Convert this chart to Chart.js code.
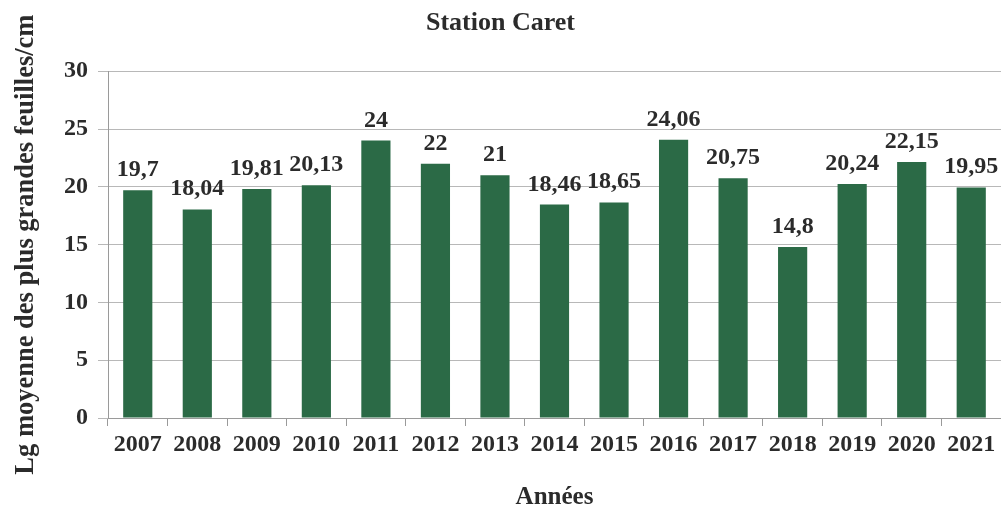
<!DOCTYPE html>
<html>
<head>
<meta charset="utf-8">
<script src="https://cdn.jsdelivr.net/npm/chart.js@4/dist/chart.umd.min.js"></script>
<style>
  html, body { margin: 0; padding: 0; background: #fff; }
  #wrap { width: 1001px; height: 513px; }
</style>
</head>
<body>
<div id="wrap"><canvas id="c" width="1001" height="513"></canvas></div>
<script>
const years = ['2007','2008','2009','2010','2011','2012','2013','2014','2015','2016','2017','2018','2019','2020','2021'];
const lengths = [19.7, 18.04, 19.81, 20.13, 24, 22, 21, 18.46, 18.65, 24.06, 20.75, 14.8, 20.24, 22.15, 19.95];
const chartTitle = 'Station Caret';
const xTitle = 'Années';
const yTitle = 'Lg moyenne des plus grandes feuilles/cm';

const FONT = "'Liberation Serif', 'Times New Roman', serif";
const TEXT = '#2b2b2b';
const BAR = '#2b6a46';

const labelPlugin = {
  id: 'valueLabels',
  afterDatasetsDraw(chart) {
    const ctx = chart.ctx;
    const meta = chart.getDatasetMeta(0);
    ctx.save();
    ctx.font = "bold 24px " + FONT;
    ctx.fillStyle = TEXT;
    ctx.textAlign = 'center';
    ctx.textBaseline = 'alphabetic';
    meta.data.forEach((bar, i) => {
      const txt = String(lengths[i]).replace('.', ',');
      ctx.fillText(txt, bar.x, bar.y - 14);
    });
    ctx.restore();
  }
};

new Chart(document.getElementById('c'), {
  type: 'bar',
  data: {
    labels: years,
    datasets: [{
      data: lengths,
      backgroundColor: BAR,
      borderWidth: 0,
      barPercentage: 0.49,
      categoryPercentage: 1.0
    }]
  },
  options: {
    responsive: false,
    animation: false,
    devicePixelRatio: 1,
    layout: { padding: { left: 0, right: 0, top: 0, bottom: 0 } },
    plugins: {
      legend: { display: false },
      tooltip: { enabled: false },
      title: {
        display: true,
        text: chartTitle,
        color: TEXT,
        font: { family: FONT, size: 26, weight: 'bold', lineHeight: 1.2 },
        padding: { top: 8, bottom: 32 }
      }
    },
    scales: {
      x: {
        afterFit(scale) { scale.height = 95; },
        grid: {
          display: true,
          drawOnChartArea: false,
          drawTicks: true,
          tickLength: 8,
          offset: true,
          color: '#9a9a9a'
        },
        border: { display: true, color: '#9a9a9a' },
        ticks: {
          color: TEXT,
          font: { family: FONT, size: 24, weight: 'bold' },
          padding: 4,
          maxRotation: 0,
          autoSkip: false
        },
        title: {
          display: true,
          text: xTitle,
          color: TEXT,
          font: { family: FONT, size: 25, weight: 'bold', lineHeight: 1.2 },
          padding: { top: 0, bottom: 0 }
        }
      },
      y: {
        min: 0,
        max: 30,
        afterFit(scale) { scale.width = 108; },
        grid: {
          color: '#b8b8b8',
          tickLength: 10,
          drawTicks: true
        },
        border: { display: true, color: '#9a9a9a' },
        ticks: {
          stepSize: 5,
          color: TEXT,
          font: { family: FONT, size: 24, weight: 'bold' },
          padding: 10
        },
        title: {
          display: true,
          text: yTitle,
          color: TEXT,
          font: { family: FONT, size: 26.5, weight: 'bold', lineHeight: 1.2 },
          padding: { top: 10, bottom: 0 }
        }
      }
    }
  },
  plugins: [labelPlugin]
});
</script>
</body>
</html>
